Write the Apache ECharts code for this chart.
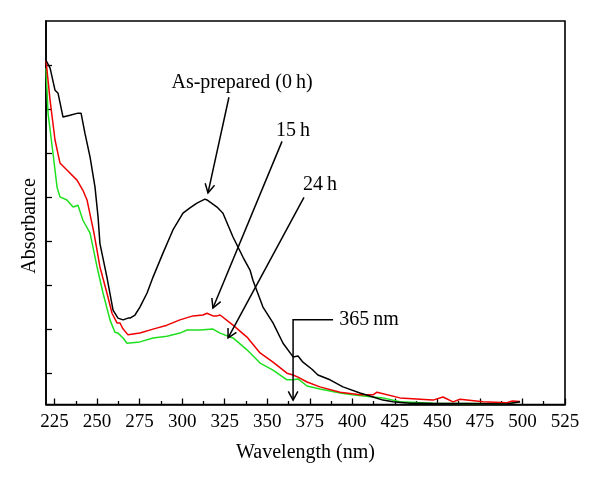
<!DOCTYPE html>
<html>
<head>
<meta charset="utf-8">
<script src="https://cdn.jsdelivr.net/npm/echarts@6/dist/echarts.min.js"></script>
<style>html,body{margin:0;padding:0;background:#fff}#c{width:600px;height:487px}</style>
</head>
<body>
<div id="c"></div>
<script>
// ---- data (wavelength in nm, absorbance in arbitrary units) ----
const wlBlack = [220,222.4,225.3,227.1,230,234.1,238.8,240.6,242.9,245.9,248.8,250.6,251.7,255.8,259.4,262.3,265.3,268.2,269.4,272.3,275.2,279.4,282.9,288.8,294.6,300.5,304.6,308.7,313.4,314.6,320.5,324,329.9,335.8,339.9,341.6,347.5,353.4,359.3,365.2,368.1,371,376.3,379.8,386.9,394.5,404.5,412.2,418,423.9,433.9,439.8,447.4,457.4,467.4,490.9,498.6];
const absBlack = [8.11,7.93,7.43,7.36,6.82,6.86,6.91,6.91,6.45,5.91,5.23,4.55,3.95,3.19,2.44,2.26,2.22,2.26,2.26,2.33,2.51,2.83,3.19,3.74,4.26,4.64,4.76,4.87,4.96,4.94,4.78,4.64,4.10,3.64,3.35,3.12,2.51,2.15,1.69,1.38,1.40,1.26,1.10,0.97,0.86,0.70,0.56,0.47,0.40,0.36,0.33,0.33,0.32,0.32,0.32,0.31,0.36];

const wlRed = [220,222.4,225.3,228.2,232.3,238.2,241.7,244.1,246.5,248.2,251.7,255.8,258.8,261.7,263.5,265,268.2,275.2,282.9,291.1,298.7,306.4,312.3,314.6,318.1,320.5,322.3,329.9,338.1,345.8,353.4,361.6,365.2,368.1,373.4,381,392.8,404.5,412.2,414.5,428,447.4,453.3,459.2,463.3,476.8,490.9,494,498.6];
const absRed = [8.11,7.20,6.30,5.78,5.62,5.39,5.16,4.94,4.50,4.19,3.42,2.83,2.37,2.15,2.15,2.03,1.88,1.92,2.01,2.10,2.22,2.31,2.33,2.37,2.31,2.31,2.33,2.10,1.83,1.47,1.26,1.01,0.97,0.92,0.81,0.70,0.58,0.52,0.52,0.58,0.45,0.40,0.47,0.36,0.42,0.36,0.34,0.38,0.37];

const wlGreen = [220,221.2,224.1,226.5,228.2,232.3,235.9,238.8,241.7,245.9,250,253.5,257.6,260.5,262.3,265.3,267.6,275.2,282.9,291.1,298.7,302.9,310.5,318.1,322.3,329.9,338.1,345.8,353.4,361.6,365.2,368.1,373.4,381,392.8,400,412.2,418,428,447.4,467.4,490.9,498.6];
const absGreen = [7.93,6.91,6.00,5.23,5.01,4.94,4.78,4.82,4.48,4.19,3.42,2.83,2.22,1.94,1.92,1.81,1.69,1.72,1.81,1.85,1.92,1.99,1.99,2.01,1.92,1.81,1.54,1.24,1.08,0.86,0.86,0.88,0.72,0.65,0.56,0.52,0.47,0.45,0.36,0.33,0.32,0.32,0.36];

const xMajorTicks = [225,250,275,300,325,350,375,400,425,450,475,500,525];
const xMinorTicks = [237.5,262.5,287.5,312.5,337.5,362.5,387.5,412.5,437.5,462.5,487.5,512.5];
const yTicks = [1,2,3,4,5,6,7,8];

const seriesNames = ['As-prepared (0 h)','15 h','24 h'];
const annoTexts = ['As-prepared (0\u2009h)','15\u2009h','24\u2009h','365\u2009nm'];
const xTitle = 'Wavelength (nm)';
const yTitle = 'Absorbance';

const zip = (a,b) => a.map((v,i)=>[v,b[i]]);
const FONT = '"Liberation Serif", "DejaVu Serif", serif';

const chart = echarts.init(document.getElementById('c'), null, {renderer:'canvas'});
const axisLineStyle = {color:'#000', width:1.6};
chart.setOption({
  animation:false,
  backgroundColor:'#fff',
  grid:{left:46, right:35, top:21, bottom:82.5, show:true, borderColor:'#000', borderWidth:1.6},
  xAxis:[{
    type:'value', min:220, max:525, position:'bottom',
    axisLine:{show:true, lineStyle:axisLineStyle},
    axisTick:{show:true, inside:true, length:6, customValues:xMajorTicks, lineStyle:{color:'#000', width:1.3}},
    axisLabel:{show:true, customValues:xMajorTicks, margin:8, color:'#000', fontSize:19, fontFamily:FONT},
    splitLine:{show:false},
    name:xTitle, nameLocation:'middle', nameGap:38,
    nameTextStyle:{color:'#000', fontSize:20, fontFamily:FONT}
  },{
    type:'value', min:220, max:525, position:'bottom',
    axisLine:{show:false},
    axisTick:{show:true, inside:true, length:3.5, customValues:xMinorTicks, lineStyle:{color:'#000', width:1.3}},
    axisLabel:{show:false}, splitLine:{show:false}
  }],
  yAxis:{
    type:'value', min:0.3, max:9,
    axisLine:{show:true, lineStyle:axisLineStyle},
    axisTick:{show:true, inside:true, length:6, customValues:yTicks, lineStyle:{color:'#000', width:1.3}},
    axisLabel:{show:false}, splitLine:{show:false}
  },
  series:[
    {name:seriesNames[2], type:'line', data:zip(wlGreen,absGreen), showSymbol:false, lineStyle:{color:'#1ee01e', width:1.5}, z:2},
    {name:seriesNames[1], type:'line', data:zip(wlRed,absRed), showSymbol:false, lineStyle:{color:'#ee0000', width:1.5}, z:3},
    {name:seriesNames[0], type:'line', data:zip(wlBlack,absBlack), showSymbol:false, lineStyle:{color:'#000', width:1.5}, z:4}
  ]
});

// ---- annotations, anchored in data coordinates ----
const px = p => chart.convertToPixel({xAxisIndex:0, yAxisIndex:0}, p);
const els = [];
const stroke = {stroke:'#000', lineWidth:1.5, fill:null};
function head(fromPx, tipPx){
  const a = Math.atan2(tipPx[1]-fromPx[1], tipPx[0]-fromPx[0]);
  const L = 10, w = 0.5;
  const p1 = [tipPx[0]-L*Math.cos(a-w), tipPx[1]-L*Math.sin(a-w)];
  const p2 = [tipPx[0]-L*Math.cos(a+w), tipPx[1]-L*Math.sin(a+w)];
  els.push({type:'polyline', shape:{points:[p1, tipPx, p2]}, style:stroke, z:10});
}
function arrow(pts){
  const P = pts.map(px);
  els.push({type:'polyline', shape:{points:P}, style:stroke, z:10});
  head(P[P.length-2], P[P.length-1]);
}
function label(txt, p, align){
  const q = px(p);
  els.push({type:'text', x:q[0], y:q[1], style:{text:txt, fill:'#000', font:'20px '+FONT, align:align||'center', verticalAlign:'middle'}, z:10});
}
arrow([[327.5,7.27],[315.2,5.10]]);
label(annoTexts[0],[335.2,7.61]);
arrow([[358.7,6.27],[318.1,2.49]]);
label(annoTexts[1],[365.2,6.52]);
arrow([[371.6,5.00],[327.0,1.81]]);
label(annoTexts[2],[381,5.28]);
arrow([[388.7,2.22],[365.2,2.22],[365.2,0.40]]);
label(annoTexts[3],[392.3,2.22],'left');
// y-axis title
els.push({type:'text', x:30, y:226, rotation:Math.PI/2, style:{text:yTitle, fill:'#000', font:'20px '+FONT, align:'center', verticalAlign:'middle'}, z:10});
chart.setOption({graphic:{elements:els}});
</script>
</body>
</html>
